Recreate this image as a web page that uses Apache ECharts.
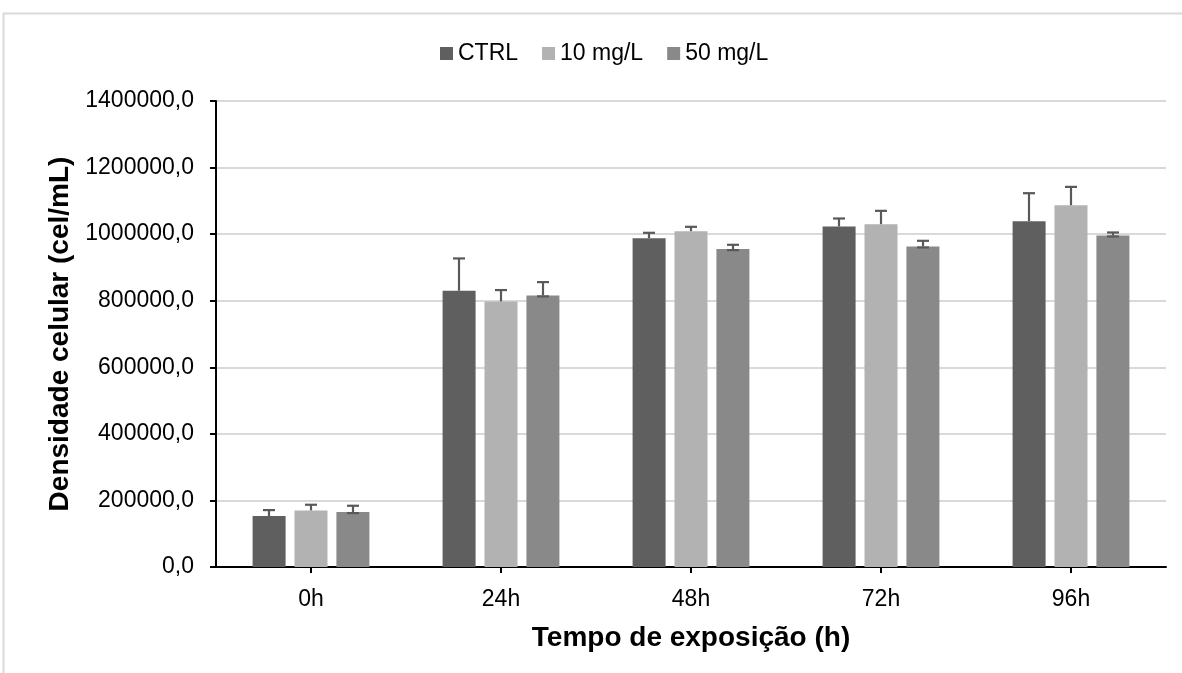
<!DOCTYPE html>
<html>
<head>
<meta charset="utf-8">
<script src="https://cdn.jsdelivr.net/npm/echarts@6/dist/echarts.min.js"></script>
<style>
  html, body { margin: 0; padding: 0; background: #fff; }
  #chart { width: 1182px; height: 673px; }
</style>
</head>
<body>
<div id="chart"></div>
<script>
// Exposure times (x categories)
const categories = ['0h', '24h', '48h', '72h', '96h'];

// Mean cell density (cel/mL) per treatment
const ctrl = [153000, 830000, 988000, 1023000, 1039000];
const mg10 = [170000, 798000, 1009000, 1030000, 1087000];
const mg50 = [165000, 816000, 955000, 963000, 996000];

// Upper error (standard deviation) per treatment
const ctrlErr = [18000, 97000, 16000, 24000, 84000];
const mg10Err = [17000, 34000, 13000, 40000, 55000];
const mg50Err = [19000, 40000, 13000, 17000, 9000];

const seriesNames = ['CTRL', '10 mg/L', '50 mg/L'];
const colors = ['#5f5f5f', '#b2b2b2', '#898989'];

const FONT = '"Liberation Sans", Arial, sans-serif';
const BAR_W = 33;
const BAR_STEP = 42;   // centre-to-centre spacing of bars in a group

function fmt(v) {
  return v.toFixed(1).replace('.', ',');
}

// Custom series drawing "plus" error bars on top of each bar
function errorSeries(values, errs, idx, baseCap) {
  return {
    type: 'custom',
    name: seriesNames[idx] + ' erro',
    z: 10,
    silent: true,
    data: values.map((v, i) => [i, v, v + errs[i]]),
    renderItem: function (params, api) {
      const c = api.value(0);
      const lo = api.coord([c, api.value(1)]);
      const hi = api.coord([c, api.value(2)]);
      const x = lo[0] + (idx - 1) * BAR_STEP;
      const half = 6;
      const style = { stroke: '#595959', lineWidth: 2.2 };
      const children = [
        { type: 'line', shape: { x1: x, y1: lo[1], x2: x, y2: hi[1] }, style: style },
        { type: 'line', shape: { x1: x - half, y1: hi[1], x2: x + half, y2: hi[1] }, style: style }
      ];
      if (baseCap) {
        children.push({ type: 'line', shape: { x1: x - half, y1: lo[1] + 1, x2: x + half, y2: lo[1] + 1 }, style: style });
      }
      return { type: 'group', children: children };
    }
  };
}

const chart = echarts.init(document.getElementById('chart'), null, { renderer: 'canvas' });

chart.setOption({
  backgroundColor: '#ffffff',
  animation: false,
  textStyle: { fontFamily: FONT },
  graphic: [{
    type: 'rect',
    shape: { x: 3.5, y: 13.5, width: 1200, height: 700 },
    style: { fill: 'none', stroke: '#d9d9d9', lineWidth: 2 },
    silent: true
  }],
  legend: {
    data: seriesNames,
    top: 42,
    left: 440,
    padding: 0,
    icon: 'rect',
    itemWidth: 13,
    itemHeight: 13,
    itemGap: 24,
    textStyle: { fontFamily: FONT, fontSize: 23, color: '#000' }
  },
  grid: { left: 216, right: 16, top: 101, bottom: 106, containLabel: false },
  xAxis: {
    type: 'category',
    data: categories,
    name: 'Tempo de exposição (h)',
    nameLocation: 'middle',
    nameGap: 57,
    nameTextStyle: { fontFamily: FONT, fontSize: 28, fontWeight: 'bold', color: '#000' },
    axisLine: { lineStyle: { color: '#000', width: 2 } },
    axisTick: { show: true, alignWithLabel: true, length: 6, lineStyle: { color: '#000', width: 2 } },
    axisLabel: { fontFamily: FONT, fontSize: 23, color: '#000', margin: 21 },
    splitLine: { show: false }
  },
  yAxis: {
    type: 'value',
    min: 0,
    max: 1400000,
    interval: 200000,
    name: 'Densidade celular (cel/mL)',
    nameLocation: 'middle',
    nameGap: 140,
    nameTextStyle: { fontFamily: FONT, fontSize: 28, fontWeight: 'bold', color: '#000' },
    axisLine: { show: true, lineStyle: { color: '#000', width: 2 } },
    axisTick: { show: true, length: 6, lineStyle: { color: '#000', width: 2 } },
    axisLabel: { fontFamily: FONT, fontSize: 23, color: '#000', margin: 22, formatter: fmt },
    splitLine: { show: true, lineStyle: { color: '#d9d9d9', width: 2 } }
  },
  series: [
    { type: 'bar', name: seriesNames[0], data: ctrl, barWidth: BAR_W, barGap: '27%', itemStyle: { color: colors[0] } },
    { type: 'bar', name: seriesNames[1], data: mg10, barWidth: BAR_W, barGap: '27%', itemStyle: { color: colors[1] } },
    { type: 'bar', name: seriesNames[2], data: mg50, barWidth: BAR_W, barGap: '27%', itemStyle: { color: colors[2] } },
    errorSeries(ctrl, ctrlErr, 0, false),
    errorSeries(mg10, mg10Err, 1, false),
    errorSeries(mg50, mg50Err, 2, true)
  ]
});
</script>
</body>
</html>
